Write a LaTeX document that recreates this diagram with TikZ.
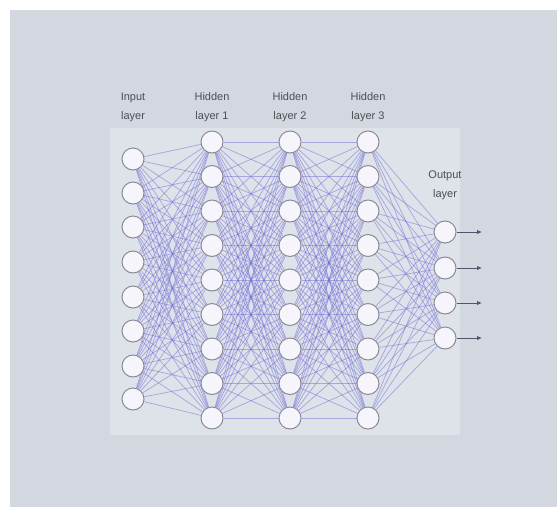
\documentclass[tikz,border=0pt]{standalone}
\usepackage{fontspec}
\setmainfont{Liberation Sans}
\usetikzlibrary{arrows.meta,backgrounds}
\pgfdeclarelayer{edges}
\pgfsetlayers{background,edges,main}
\definecolor{bgc}{RGB}{211,216,224}
\definecolor{panelc}{RGB}{222,226,233}
\definecolor{nodefill}{RGB}{246,245,252}
\definecolor{nodedraw}{RGB}{140,138,150}
\definecolor{edgec}{RGB}{115,108,215}
\definecolor{textc}{RGB}{75,78,85}
\definecolor{arrowc}{RGB}{80,85,105}
\tikzset{
  neuron/.style={circle,draw=nodedraw,fill=nodefill,line width=1pt,minimum size=22pt,inner sep=0pt},
  link/.style={draw=edgec,draw opacity=0.5,line width=0.75pt},
  lbl/.style={text=textc,font=\fontsize{11}{19}\selectfont,align=center},
  outarrow/.style={draw=arrowc,line width=0.9pt,-{Latex[length=5pt,width=4.5pt]}}
}
\begin{document}
\begin{tikzpicture}[x=1pt,y=-1pt]
\useasboundingbox (0,0) rectangle (557,507);
\begin{pgfonlayer}{background}
\fill[white] (0,0) rectangle (557,507);
\fill[bgc] (10,10) rectangle (557,507);
\fill[panelc] (110,128) rectangle (460,435);
\end{pgfonlayer}
% input layer
\foreach \y [count=\k] in {159,193,227,262,297,331,366,399}
  \node[neuron] (i\k) at (133,\y) {};
% hidden layers
\foreach \x [count=\l] in {212,290,368}
  \foreach \k in {1,...,9}
    \node[neuron] (h\l-\k) at (\x,{142+(\k-1)*34.5}) {};
% output layer
\foreach \y [count=\k] in {232,268,303,338}
  \node[neuron] (o\k) at (445,\y) {};
% connections
\begin{pgfonlayer}{edges}
\foreach \a in {1,...,8}
  \foreach \b in {1,...,9}
    \draw[link] (i\a) -- (h1-\b);
\foreach \a in {1,...,9}
  \foreach \b in {1,...,9}
    {\draw[link] (h1-\a) -- (h2-\b);
     \draw[link] (h2-\a) -- (h3-\b);}
\foreach \a in {1,...,9}
  \foreach \b in {1,...,4}
    \draw[link] (h3-\a) -- (o\b);
\end{pgfonlayer}
% output arrows
\foreach \k in {1,...,4}
  {\coordinate (e\k) at (482,{(\k==1)*232+(\k==2)*268+(\k==3)*303+(\k==4)*338});
   \draw[outarrow] (o\k) -- (e\k);}
% labels
\node[lbl] (lin) at (133,107) {Input\\layer};
\node[lbl] (lh1) at (212,107) {Hidden\\layer 1};
\node[lbl] (lh2) at (290,107) {Hidden\\layer 2};
\node[lbl] (lh3) at (368,107) {Hidden\\layer 3};
\node[lbl] (lout) at (445,185) {Output\\layer};
\end{tikzpicture}
\end{document}
